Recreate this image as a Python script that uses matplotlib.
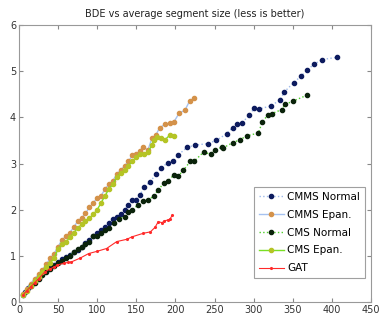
import matplotlib.pyplot as plt
import numpy as np

# values
cmms_normal_x = [5, 8, 12, 16, 20, 25, 30, 35, 40, 45, 50, 55, 60, 65, 70, 75, 80, 85, 90, 95,
                 100, 105, 110, 115, 120, 125, 130, 135, 140, 145, 150, 155, 160, 168, 175, 182,
                 190, 197, 203, 215, 225, 241, 252, 266, 273, 279, 285, 294, 301, 307, 322, 334,
                 339, 351, 361, 368, 377, 387, 406]
cmms_normal_y = [0.15, 0.22, 0.3, 0.38, 0.45, 0.52, 0.6, 0.68, 0.75, 0.8, 0.87, 0.93, 0.98, 1.02,
                 1.08, 1.13, 1.2, 1.27, 1.35, 1.42, 1.5, 1.55, 1.62, 1.72, 1.8, 1.85, 1.9, 2.0,
                 2.1, 2.2, 2.22, 2.32, 2.5, 2.6, 2.78, 2.9, 3.02, 3.05, 3.18, 3.35, 3.4, 3.43,
                 3.5, 3.65, 3.78, 3.85, 3.87, 4.05, 4.2, 4.18, 4.25, 4.38, 4.55, 4.75, 4.9, 5.02,
                 5.15, 5.25, 5.3]

cmms_epan_x = [5, 10, 15, 20, 25, 30, 35, 40, 45, 50, 55, 60, 65, 70, 75, 80, 85, 90, 95, 100,
               105, 110, 115, 120, 125, 130, 135, 140, 145, 150, 155, 158, 165, 170, 175, 180,
               187, 193, 198, 205, 212, 218, 224]
cmms_epan_y = [0.17, 0.28, 0.4, 0.5, 0.6, 0.7, 0.82, 0.95, 1.05, 1.2, 1.35, 1.42, 1.5, 1.62,
               1.75, 1.82, 1.92, 2.05, 2.15, 2.25, 2.3, 2.45, 2.55, 2.62, 2.78, 2.85, 2.95,
               3.05, 3.18, 3.2, 3.28, 3.35, 3.3, 3.55, 3.62, 3.78, 3.85, 3.88, 3.9, 4.1, 4.15,
               4.35, 4.42]

cms_normal_x = [16, 20, 25, 30, 35, 40, 45, 50, 55, 60, 65, 70, 75, 80, 85, 90, 95, 100, 105,
                110, 115, 122, 128, 135, 140, 145, 152, 158, 165, 172, 178, 185, 190, 198, 203,
                210, 219, 224, 236, 245, 251, 259, 261, 273, 283, 291, 306, 311, 318, 323, 336,
                340, 350, 368]
cms_normal_y = [0.35, 0.42, 0.5, 0.58, 0.65, 0.72, 0.78, 0.85, 0.9, 0.95, 1.0, 1.08, 1.15, 1.2,
                1.25, 1.3, 1.42, 1.42, 1.5, 1.55, 1.6, 1.72, 1.8, 1.85, 1.95, 2.0, 2.1, 2.18,
                2.2, 2.3, 2.42, 2.58, 2.62, 2.75, 2.72, 2.85, 3.05, 3.05, 3.25, 3.2, 3.3, 3.35,
                3.34, 3.45, 3.52, 3.6, 3.66, 3.9, 4.05, 4.08, 4.17, 4.28, 4.35, 4.48]

cms_epan_x = [5, 10, 15, 20, 25, 30, 35, 40, 45, 50, 55, 60, 65, 70, 75, 80, 85, 90, 95, 100,
              105, 110, 115, 120, 125, 130, 135, 140, 145, 150, 155, 160, 165, 170, 172, 177,
              182, 187, 193, 198]
cms_epan_y = [0.15, 0.25, 0.35, 0.45, 0.55, 0.65, 0.75, 0.85, 0.95, 1.15, 1.25, 1.3, 1.4, 1.5,
              1.6, 1.68, 1.75, 1.82, 1.9, 2.0, 2.15, 2.3, 2.45, 2.55, 2.7, 2.8, 2.85, 2.95,
              3.05, 3.15, 3.2, 3.2, 3.25, 3.4, 3.52, 3.58, 3.55, 3.52, 3.62, 3.6]

gat_x = [5, 10, 15, 20, 25, 33, 40, 45, 49, 57, 63, 67, 78, 89, 100, 112, 125, 138, 144, 159,
         168, 174, 178, 183, 186, 191, 193, 196]
gat_y = [0.15, 0.25, 0.33, 0.42, 0.5, 0.65, 0.72, 0.76, 0.8, 0.84, 0.86, 0.87, 0.95, 1.05,
         1.1, 1.16, 1.31, 1.36, 1.41, 1.49, 1.52, 1.62, 1.74, 1.72, 1.76, 1.78, 1.8, 1.88]

plt.rcParams['font.family'] = 'DejaVu Sans'

fig = plt.figure(figsize=(3.79, 3.21), dpi=100)
ax = fig.add_axes([0.05, 0.059, 0.929, 0.863])

ax.plot(cmms_normal_x, cmms_normal_y, linestyle=':', color='#9db9ea', lw=1.0,
        marker='o', ms=3.0, mfc='#0d1b5e', mec='#0d1b5e', label='CMMS Normal')
ax.plot(cmms_epan_x, cmms_epan_y, linestyle='-', color='#a6c2f0', lw=1.0,
        marker='o', ms=3.0, mfc='#d4924a', mec='#d4924a', label='CMMS Epan.')
ax.plot(cms_normal_x, cms_normal_y, linestyle=':', color='#4fcf2a', lw=1.0,
        marker='o', ms=3.0, mfc='#0b230b', mec='#0b230b', label='CMS Normal')
ax.plot(cms_epan_x, cms_epan_y, linestyle='-', color='#7ae024', lw=1.0,
        marker='o', ms=3.0, mfc='#b5c425', mec='#b5c425', label='CMS Epan.')
ax.plot(gat_x, gat_y, linestyle='-', color='#ff2a2a', lw=0.8,
        marker='.', ms=2.5, label='GAT')

ax.set_xlim(0, 450)
ax.set_ylim(0, 6)
ax.set_xticks(np.arange(0, 451, 50))
ax.set_yticks(np.arange(0, 7, 1))
ax.tick_params(direction='in', length=3, labelsize=7, top=True, right=True,
               color='#888888', labelcolor='#333333', pad=2)
for s in ax.spines.values():
    s.set_color('#999999')

ax.set_title('BDE vs average segment size (less is better)', fontsize=7, color='#222222', pad=6)

leg = ax.legend(loc='lower right', fontsize=7.5, frameon=True, fancybox=False,
                handlelength=2.4, borderpad=0.45, labelspacing=0.75, handletextpad=0.35,
                borderaxespad=0, bbox_to_anchor=(0.963, 0.134),
                bbox_transform=fig.transFigure)
leg.get_frame().set_edgecolor('#888888')
leg.get_frame().set_linewidth(0.8)

fig.savefig('out.png', dpi=100)
